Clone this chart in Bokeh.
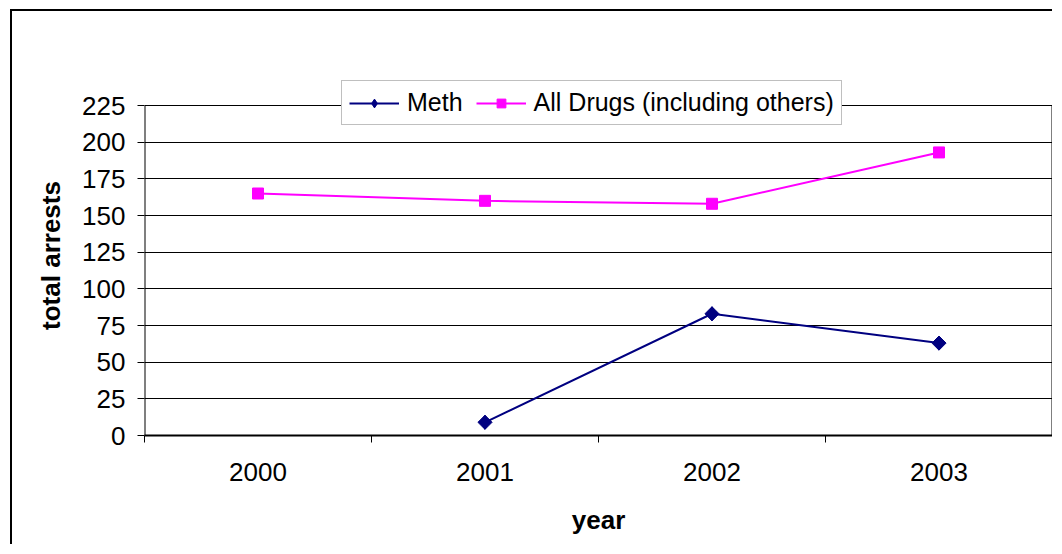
import math
from bokeh.plotting import figure
from bokeh.models import Range1d, FixedTicker, Legend, LegendItem
from bokeh.embed import file_html
from bokeh.resources import INLINE

years = ["2000", "2001", "2002", "2003"]
meth_years = ["2001", "2002", "2003"]
meth = [9, 83, 63]
all_drugs = [165, 160, 158, 193]
y_ticks = [0, 25, 50, 75, 100, 125, 150, 175, 200, 225]

FONT = "Liberation Sans"
FS = "26px"

pos = {y: i + 0.5 for i, y in enumerate(years)}
y_top = y_ticks[-1]
# frame extends a little above the top tick so the legend can overlap the plot border
y_end = y_top * 360 / 330

p = figure(width=1042, height=535, output_backend="svg", toolbar_location=None,
           x_range=Range1d(0, len(years)), y_range=Range1d(0, y_end),
           min_border_left=132, min_border_right=2, min_border_top=64, min_border_bottom=111)
p.styles = {"margin-left": "10px", "margin-top": "9px",
            "border-left": "2px solid black", "border-top": "2px solid black"}

p.background_fill_color = "white"
p.border_fill_color = None
p.outline_line_color = None

# grid
p.xgrid.grid_line_color = None
p.ygrid.grid_line_color = "black"
p.ygrid.grid_line_width = 1
p.ygrid.ticker = FixedTicker(ticks=y_ticks)

# plot-area side borders (left axis line and right border) from 0 to top tick
p.segment(x0=[0, len(years)], y0=[0, 0], x1=[0, len(years)], y1=[y_top, y_top],
          line_color="black", line_width=2)

# y axis
p.yaxis.ticker = FixedTicker(ticks=y_ticks)
p.yaxis.axis_line_color = None
p.yaxis.major_tick_out = 7
p.yaxis.major_tick_in = 0
p.yaxis.major_tick_line_color = "black"
p.yaxis.minor_tick_line_color = None
p.yaxis.major_label_standoff = 12
p.yaxis.major_label_text_font = FONT
p.yaxis.major_label_text_font_size = FS
p.yaxis.major_label_text_color = "black"
p.yaxis.axis_label = "total arrests"
p.yaxis.axis_label_text_font = FONT
p.yaxis.axis_label_text_font_size = FS
p.yaxis.axis_label_text_font_style = "bold"
p.yaxis.axis_label_text_color = "black"
p.yaxis.axis_label_standoff = 13

# x axis
p.xaxis.ticker = FixedTicker(ticks=[pos[y] for y in years],
                             minor_ticks=list(range(len(years) + 1)))
p.xaxis.major_label_overrides = {pos[y]: y for y in years}
p.xaxis.axis_line_color = "black"
p.xaxis.axis_line_width = 2
p.xaxis.major_tick_line_color = None
p.xaxis.major_tick_out = 0
p.xaxis.major_tick_in = 0
p.xaxis.minor_tick_line_color = "black"
p.xaxis.minor_tick_out = 7
p.xaxis.minor_tick_in = 0
p.xaxis.major_label_standoff = 20
p.xaxis.major_label_text_font = FONT
p.xaxis.major_label_text_font_size = FS
p.xaxis.major_label_text_color = "black"
p.xaxis.axis_label = "year"
p.xaxis.axis_label_text_font = FONT
p.xaxis.axis_label_text_font_size = FS
p.xaxis.axis_label_text_font_style = "bold"
p.xaxis.axis_label_text_color = "black"
p.xaxis.axis_label_standoff = 21

mx = [pos[y] for y in meth_years]
ax = [pos[y] for y in years]

l1 = p.line(mx, meth, line_color="#000080", line_width=2)
# diamond glyph (used for the legend), covered by the rotated square on the plot
s1_leg = p.scatter(mx, meth, marker="diamond", size=14,
                   fill_color="#000080", line_color="#000080")
s1 = p.scatter(mx, meth, marker="square", angle=math.pi / 4, size=10,
               fill_color="#000080", line_color="#000080")
l2 = p.line(ax, all_drugs, line_color="#FF00FF", line_width=2)
s2 = p.scatter(ax, all_drugs, marker="square", size=11, fill_color="#FF00FF", line_color="#FF00FF")

legend = Legend(items=[LegendItem(label="Meth", renderers=[l1, s1_leg]),
                       LegendItem(label="All Drugs (including others)", renderers=[l2, s2])],
                orientation="horizontal", location=(197, 310))
legend.label_text_font = FONT
legend.label_text_font_size = "25px"
legend.label_text_color = "black"
legend.border_line_color = "#808080"
legend.border_line_width = 1.5
legend.background_fill_color = "white"
legend.background_fill_alpha = 1
legend.glyph_width = 50
legend.glyph_height = 22
legend.label_standoff = 8
legend.spacing = 13
legend.padding = 7
legend.margin = 0
legend.label_height = 22
p.add_layout(legend, "center")

open("out.html", "w").write(file_html(p, INLINE))
